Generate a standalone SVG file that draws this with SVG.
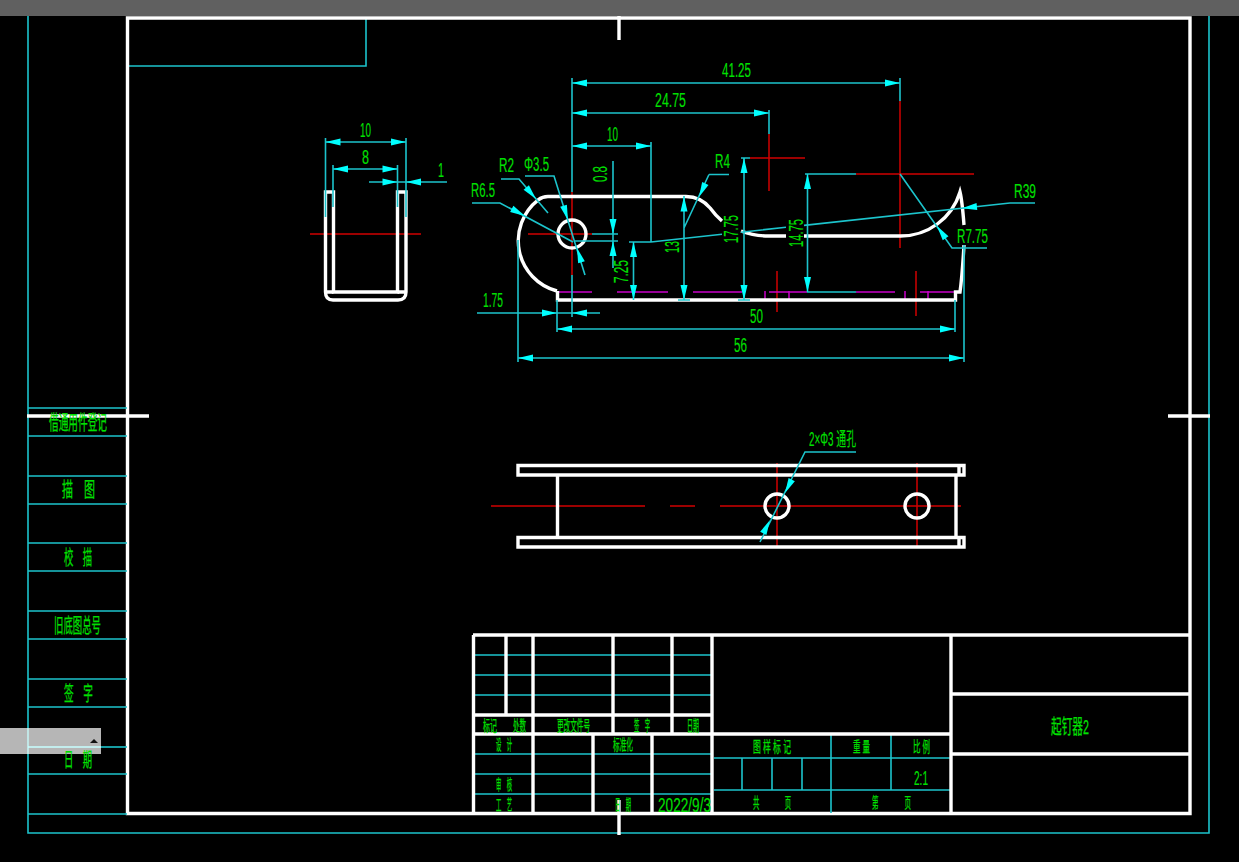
<svg xmlns="http://www.w3.org/2000/svg" width="1239" height="862" viewBox="0 0 1239 862">
<style>
.w{fill:none;stroke:#fff;stroke-width:3.400}
.c{fill:none;stroke:#1cc4cc;stroke-width:1.600}
.r{fill:none;stroke:#d00000;stroke-width:1.500}
.m{fill:none;stroke:#c800c8;stroke-width:1.500}
.a{fill:#00ffff}
text{fill:#00e000;stroke:#00e000;stroke-width:.25;font-family:"Liberation Sans","Noto Sans CJK SC",sans-serif;font-size:15px}
.n{font-size:19.500px;stroke-width:.1}
.b{font-size:20px}
</style>
<defs><polygon id="a" class="a" points="0,0 -15,-3.500 -15,3.500"/></defs>
<rect width="1239" height="862" fill="#000"/>
<rect width="1239" height="16" fill="#606060"/>

<g id="sheet-frame">
<path class="c" d="M28 16V833H1209V16M127 66H366V18"/>
<path class="w" d="M127.500 18H1190V813.500H127.500Z"/>
<path class="w" d="M619 16V40M619 800V835M27 416H149M1168 416H1210"/>
</g>

<g id="left-table">
<path class="c" d="M28 408H127M28 436H127M28 476H127M28 504H127M28 543H127M28 571H127M28 611H127M28 639H127M28 679H127M28 707H127M28 774H127M28 814H127"/>
<text class="b" x="49" y="430" textLength="58" lengthAdjust="spacingAndGlyphs">借通用件登记</text>
<text class="b" x="62" y="497" textLength="33" lengthAdjust="spacingAndGlyphs">描　图</text>
<text class="b" x="64" y="565" textLength="28" lengthAdjust="spacingAndGlyphs">校　描</text>
<text class="b" x="54" y="633" textLength="47" lengthAdjust="spacingAndGlyphs">旧底图总号</text>
<text class="b" x="64" y="701" textLength="29" lengthAdjust="spacingAndGlyphs">签　字</text>
</g>

<g id="popup">
<rect x="0" y="728" width="101" height="26" fill="#b6b6b6"/>
<path d="M28 728V754M28 747H101" fill="none" stroke="#c8ffff" stroke-width="1.300"/>
<path class="c" d="M101 747H127"/>
<polygon points="90,743 94,739 98,743" fill="#111"/>
<text class="b" x="64" y="767" textLength="28" lengthAdjust="spacingAndGlyphs">日　期</text>
</g>

<g id="title-block">
<path class="c" d="M473 655H712M473 675H712M473 695H712M473 754H712M473 774H712M473 794H712M714 758H950M714 790H950M831 734V813M891 734V790M742 758V790M772 758V790M802 758V790"/>
<path class="w" d="M473 635H1190M473.500 635V813M506 635V715M533 635V813M613 635V734M672 635V734M712 635V813M473 715H712M473 734H951M593 734V813M652 734V813M951 635V813M951 694H1190M951 754H1190"/>
<g>
<text x="483" y="731" textLength="14" lengthAdjust="spacingAndGlyphs">标记</text>
<text x="513" y="731" textLength="13" lengthAdjust="spacingAndGlyphs">处数</text>
<text x="557" y="731" textLength="33" lengthAdjust="spacingAndGlyphs">更改文件号</text>
<text x="634" y="731" textLength="16" lengthAdjust="spacingAndGlyphs">签　字</text>
<text x="687" y="731" textLength="12" lengthAdjust="spacingAndGlyphs">日期</text>
<text x="496" y="750" textLength="16" lengthAdjust="spacingAndGlyphs">设　计</text>
<text x="613" y="750" textLength="20" lengthAdjust="spacingAndGlyphs">标准化</text>
<text x="496" y="790" textLength="16" lengthAdjust="spacingAndGlyphs">审　核</text>
<text x="496" y="810" textLength="16" lengthAdjust="spacingAndGlyphs">工　艺</text>
<text x="615" y="810" textLength="16" lengthAdjust="spacingAndGlyphs">日　期</text>
<text class="n" x="658" y="812" textLength="53" lengthAdjust="spacingAndGlyphs">2022/9/3</text>
<text x="753" y="752" textLength="38" lengthAdjust="spacingAndGlyphs">图 样 标 记</text>
<text x="853" y="752" textLength="17" lengthAdjust="spacingAndGlyphs">重 量</text>
<text x="913" y="752" textLength="17" lengthAdjust="spacingAndGlyphs">比 例</text>
<text class="n" x="914" y="785" textLength="14" lengthAdjust="spacingAndGlyphs">2:1</text>
<text x="753" y="808" textLength="38" lengthAdjust="spacingAndGlyphs">共　　　　页</text>
<text x="872" y="808" textLength="39" lengthAdjust="spacingAndGlyphs">第　　　　页</text>
<text class="b" x="1051" y="734" textLength="38" lengthAdjust="spacingAndGlyphs">起钉器2</text>
</g>
</g>

<g id="side-view">
<path class="r" d="M310 234H421"/>
<path class="w" d="M325.500 192H333.500V292H397.500V192H406V292Q406 300 398 300H333Q325.500 300 325.500 292Z"/>
<path class="w" d="M333.500 292H326M397.500 292H406"/>
</g>

<g id="front-view">
<path class="r" d="M572 192V275M528 234H592M769 134V191M750 158H805M900 101V248M856 174H974M777 271V312M916 271V316"/>
<path class="m" d="M558 292H592M617 292H668M693 292H742M769 292H807M856 292H895M920 292H957M765 291V300M789 291V300M905 291V300M928 291V300"/>
<circle class="w" cx="572" cy="234" r="14"/>
<path class="w" d="M557 291A52 52 0 0 1 538.200 199.800A16 16 0 0 1 548 196.500H686A32 32 0 0 1 710.100 208A78 78 0 0 0 722 221M741 231A78 78 0 0 0 769 236H786M804 236H900A62 62 0 0 0 960 192C962 200 963 212 964 225M964 245C963 262 962 278 960 292H955.500V300H557.500V291"/>
</g>

<g id="top-view">
<path class="r" d="M491 506H645M670 506H695M720 506H961M777 463V548M917 463V548"/>
<path class="w" d="M518 465.500H964V475H518ZM518 537.500H964V547H518ZM557.500 475V537M956 475V537M959 465.500V475M959 537.500V547"/>
<circle class="w" cx="777" cy="506" r="12"/>
<circle class="w" cx="917" cy="506" r="12"/>
</g>

<g id="connectors">
<path class="c" d="M325.500 138V217M406 138V217M333 165V207M397.500 165V207M325.500 142H406M333 169H397.500M369 182H447"/>
<path class="c" d="M572 78V192M572 275V317M769 110V134M900 78V101M572 83H900M572 113H769M572 146H651M651 142V242M629 242H651M651 242L722 234.300M741 232.200L786 227.300M804 225.400L1010 203H1035"/>
<path class="c" d="M633.500 242V300M613 161V268M592 234H618M575 241H618M684 196V300M709 174.500H729M709 174.500L684 228M744 158V300M741 158H750M738 300H750M678 300H690M807.500 174V292M805 174H856M807 292H856M900 174L952 248H987"/>
<path class="c" d="M472 203H500L573 242M501 179H519L548 213M525 176H554L585 275M477 313H600M557 300V332M557 329H955M955 300V332M518 240V362M964 245V362M518 358H964"/>
<path class="c" d="M856 452H805L760 542"/>
<use href="#a" transform="translate(325.500,142) rotate(180)"/><use href="#a" transform="translate(406,142)"/>
<use href="#a" transform="translate(333,169) rotate(180)"/><use href="#a" transform="translate(397.500,169)"/>
<use href="#a" transform="translate(397.500,182)"/><use href="#a" transform="translate(406,182) rotate(180)"/>
<use href="#a" transform="translate(572,83) rotate(180)"/><use href="#a" transform="translate(900,83)"/>
<use href="#a" transform="translate(572,113) rotate(180)"/><use href="#a" transform="translate(769,113)"/>
<use href="#a" transform="translate(572,146) rotate(180)"/><use href="#a" transform="translate(651,146)"/>
<use href="#a" transform="translate(633.500,242) rotate(-90)"/><use href="#a" transform="translate(633.500,300) rotate(90)"/>
<use href="#a" transform="translate(613,234) rotate(90)"/><use href="#a" transform="translate(613,241) rotate(-90)"/>
<use href="#a" transform="translate(684,196.500) rotate(-90)"/><use href="#a" transform="translate(684,300) rotate(90)"/>
<use href="#a" transform="translate(744,158) rotate(-90)"/><use href="#a" transform="translate(744,300) rotate(90)"/>
<use href="#a" transform="translate(807.500,174) rotate(-90)"/><use href="#a" transform="translate(807.500,292) rotate(90)"/>
<use href="#a" transform="translate(525,216) rotate(28)"/>
<use href="#a" transform="translate(536,199) rotate(49.500)"/>
<use href="#a" transform="translate(568,220) rotate(72.600)"/><use href="#a" transform="translate(577,248) rotate(252.600)"/>
<use href="#a" transform="translate(699,197) rotate(115)"/>
<use href="#a" transform="translate(937,226) rotate(234.900)"/>
<use href="#a" transform="translate(962,208.200) rotate(173.800)"/>
<use href="#a" transform="translate(557,313)"/><use href="#a" transform="translate(572,313) rotate(180)"/>
<use href="#a" transform="translate(557,329) rotate(180)"/><use href="#a" transform="translate(955,329)"/>
<use href="#a" transform="translate(518,358) rotate(180)"/><use href="#a" transform="translate(964,358)"/>
<use href="#a" transform="translate(785,493) rotate(116.600)"/><use href="#a" transform="translate(770,520) rotate(296.600)"/>
</g>

<g id="dimension-labels">
<text class="n" x="360" y="137" textLength="11" lengthAdjust="spacingAndGlyphs">10</text>
<text class="n" x="362" y="164" textLength="7" lengthAdjust="spacingAndGlyphs">8</text>
<text class="n" x="438" y="177" textLength="6" lengthAdjust="spacingAndGlyphs">1</text>
<text class="n" x="722" y="77" textLength="29" lengthAdjust="spacingAndGlyphs">41.25</text>
<text class="n" x="655" y="107" textLength="31" lengthAdjust="spacingAndGlyphs">24.75</text>
<text class="n" x="607" y="141" textLength="11" lengthAdjust="spacingAndGlyphs">10</text>
<text class="n" x="499" y="172" textLength="15" lengthAdjust="spacingAndGlyphs">R2</text>
<text class="n" x="524" y="171" textLength="25" lengthAdjust="spacingAndGlyphs">Φ3.5</text>
<text class="n" x="471" y="197" textLength="24" lengthAdjust="spacingAndGlyphs">R6.5</text>
<text class="n" x="715" y="168" textLength="15" lengthAdjust="spacingAndGlyphs">R4</text>
<text class="n" x="1014" y="198" textLength="22" lengthAdjust="spacingAndGlyphs">R39</text>
<text class="n" x="957" y="243" textLength="31" lengthAdjust="spacingAndGlyphs">R7.75</text>
<text class="n" x="483" y="307" textLength="20" lengthAdjust="spacingAndGlyphs">1.75</text>
<text class="n" x="750" y="323" textLength="13" lengthAdjust="spacingAndGlyphs">50</text>
<text class="n" x="734" y="352" textLength="13" lengthAdjust="spacingAndGlyphs">56</text>
<text class="n" transform="translate(607,182) rotate(-90)" textLength="16" lengthAdjust="spacingAndGlyphs">0.8</text>
<text class="n" transform="translate(628,283) rotate(-90)" textLength="23" lengthAdjust="spacingAndGlyphs">7.25</text>
<text class="n" transform="translate(679,253) rotate(-90)" textLength="12" lengthAdjust="spacingAndGlyphs">13</text>
<text class="n" transform="translate(738,243) rotate(-90)" textLength="28" lengthAdjust="spacingAndGlyphs">17.75</text>
<text class="n" transform="translate(803,247) rotate(-90)" textLength="28" lengthAdjust="spacingAndGlyphs">14.75</text>
<text class="n" x="809" y="446" textLength="47" lengthAdjust="spacingAndGlyphs">2×Φ3 通孔</text>
</g>
</svg>
